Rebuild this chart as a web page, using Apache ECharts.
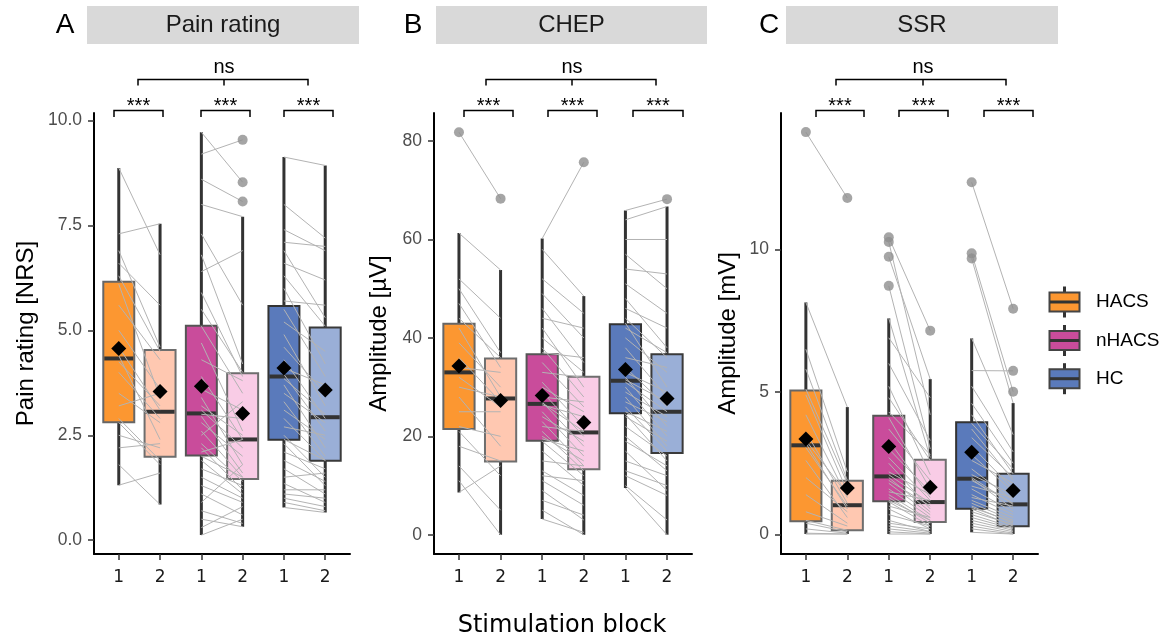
<html>
<head>
<meta charset="utf-8">
<title>Stimulation block</title>
<style>
  body { margin: 0; background: #fff; }
  #chart { width: 1163px; height: 640px; }
</style>
</head>
<body>
<div id="chart"></div>
<script src="https://cdn.jsdelivr.net/npm/echarts@6.0.0/dist/echarts.min.js"></script>
<script>
// groups / blocks
var groups = ['HACS', 'nHACS', 'HC'];
var blockLabels = ['1', '2'];
var panelTitles = ['Pain rating', 'CHEP', 'SSR'];
var panelLetters = ['A', 'B', 'C'];
var yTitles = ['Pain rating [NRS]', 'Amplitude [\u00b5V]', 'Amplitude [mV]'];

// box stats per box (HACS 1, HACS 2, nHACS 1, nHACS 2, HC 1, HC 2): [whisker low, Q1, median, Q3, whisker high]
var painBox = [[1.31, 2.81, 4.33, 6.16, 8.87], [0.85, 1.99, 3.06, 4.53, 7.54], [0.12, 2.02, 3.02, 5.11, 9.72],
               [0.32, 1.46, 2.40, 3.98, 7.71], [0.78, 2.39, 3.90, 5.58, 9.13], [0.66, 1.89, 2.93, 5.07, 8.93]];
var painMean = [4.57, 3.54, 3.67, 3.02, 4.10, 3.58];
var painOut = [[4, 9.54], [4, 8.53], [4, 8.07]];

var chepBox = [[8.6, 21.5, 33.0, 42.9, 61.3], [0, 14.9, 27.7, 35.8, 53.8], [3.2, 19.1, 26.6, 36.7, 60.2],
               [0, 13.3, 20.8, 32.1, 48.5], [9.5, 24.7, 31.3, 42.8, 65.9], [0, 16.6, 25.0, 36.7, 66.7]];
var chepMean = [34.3, 27.3, 28.3, 22.8, 33.6, 27.7];
var chepOut = [[1, 81.8], [2, 68.3], [4, 75.7], [6, 68.2]];

var ssrBox = [[0.02, 0.47, 3.13, 5.05, 8.14], [0.02, 0.15, 1.03, 1.89, 4.47], [0.02, 1.17, 2.04, 4.17, 7.58],
              [0.02, 0.44, 1.14, 2.62, 5.45], [0.08, 0.91, 1.96, 3.94, 6.88], [0.02, 0.29, 1.06, 2.13, 4.61]];
var ssrMean = [3.35, 1.63, 3.09, 1.66, 2.89, 1.55];
var ssrOut = [[1, 14.11], [2, 11.8], [3, 10.42], [3, 10.26], [3, 9.74], [3, 8.72], [4, 7.15],
              [5, 12.35], [5, 9.86], [5, 9.68], [6, 7.92], [6, 5.74], [6, 5.01]];

// paired subjects, block 1 -> block 2
var painHacs1 = [8.87, 7.3, 6.9, 6.6, 6.3, 6.1, 5.6, 5.0, 4.6, 4.4, 4.25, 4.0, 3.5, 3.2, 2.9, 2.8, 2.5, 2.2, 1.8, 1.31];
var painHacs2 = [6.8, 7.54, 4.6, 5.6, 4.5, 3.4, 4.3, 3.6, 3.1, 2.4, 3.2, 2.9, 2.8, 3.5, 1.9, 1.8, 2.2, 2.3, 0.85, 1.6];
var painNhacs1 = [9.72, 9.2, 8.6, 8.0, 7.3, 6.8, 6.4, 5.9, 5.5, 5.1, 4.7, 4.3, 3.9, 3.6, 3.4, 3.2, 3.1, 3.0, 2.95, 2.8,
                  2.6, 2.5, 2.3, 2.2, 2.1, 2.0, 1.9, 1.7, 1.5, 1.3, 1.1, 0.9, 0.7, 0.5, 0.3, 0.12];
var painNhacs2 = [8.53, 9.54, 8.07, 7.71, 5.6, 4.2, 6.9, 3.9, 4.0, 3.5, 2.6, 3.8, 2.4, 3.1, 1.8, 2.5, 2.2, 2.9, 1.6, 2.0,
                  1.5, 3.3, 1.4, 1.2, 2.4, 1.5, 1.1, 1.3, 1.0, 0.9, 0.6, 1.8, 0.4, 0.32, 0.8, 0.5];
var painHc1 = [9.13, 8.0, 7.4, 7.1, 6.9, 6.6, 6.3, 6.0, 5.7, 5.5, 5.2, 4.9, 4.6, 4.3, 4.1, 3.95, 3.85, 3.7, 3.5, 3.3,
               3.1, 2.9, 2.7, 2.5, 2.4, 2.3, 2.1, 1.9, 1.7, 1.5, 1.35, 1.2, 1.1, 1.0, 0.9, 0.78];
var painHc2 = [8.93, 7.2, 6.9, 7.0, 5.3, 6.2, 5.1, 4.2, 5.6, 3.9, 4.5, 3.2, 3.5, 2.9, 3.7, 2.6, 3.0, 2.2, 2.8, 2.0,
               2.4, 1.9, 2.5, 1.5, 1.9, 1.3, 1.7, 1.4, 1.1, 1.6, 0.9, 1.2, 1.0, 0.8, 0.7, 0.66];

var chepHacs1 = [81.8, 61.3, 52, 50, 47, 44, 42, 39, 36, 34, 32, 30, 28, 25, 22, 21, 18, 14, 11, 8.6];
var chepHacs2 = [68.3, 53.8, 44, 37, 34, 36, 28, 30, 27, 33, 26, 28, 18, 25, 20, 12, 15, 5, 0, 14];
var chepNhacs1 = [60.2, 58, 52, 49, 46, 44, 42, 40, 38, 37, 35, 33, 31, 30, 29, 28, 27, 26.8, 26.4, 25,
                  24, 23, 22, 21, 20, 19.5, 19, 17, 15, 13, 12, 11, 9, 7, 5, 3.2];
var chepNhacs2 = [75.7, 48.5, 45, 40, 35, 42, 30, 33, 28, 36, 26, 32, 22, 25, 20, 27, 18, 21, 24, 16,
                  19, 14, 21, 13, 15, 17, 12, 10, 14, 8, 11, 6, 3, 4, 0, 0.5];
var chepHc1 = [65.9, 64, 60, 57, 54, 51, 48, 46, 44, 43, 42, 40, 38, 36, 34, 33, 32, 31.5, 31, 30,
               29, 28, 27, 26, 25, 24.5, 24, 22, 20, 19, 17, 15, 13, 12, 10, 9.5];
var chepHc2 = [68.2, 66.7, 60, 50, 53, 45, 38, 42, 36, 30, 37, 33, 28, 34, 26, 29, 22, 27, 25, 20,
               24, 18, 23, 17, 21, 15, 19, 16, 13, 14, 9, 12, 10, 8, 3, 0];

var ssrHacs1 = [14.11, 8.14, 6.5, 5.8, 5.1, 4.9, 4.2, 3.6, 3.3, 3.2, 3.05, 2.6, 2.0, 1.4, 0.8, 0.5, 0.4, 0.2, 0.05, 0.02];
var ssrHacs2 = [11.8, 4.47, 2.2, 1.9, 1.8, 1.5, 1.3, 1.1, 1.4, 0.9, 1.0, 0.6, 0.8, 0.4, 0.3, 0.15, 0.1, 0.05, 0.02, 0.02];
var ssrNhacs1 = [10.42, 10.26, 9.74, 8.72, 7.58, 6.9, 6.0, 5.2, 4.8, 4.3, 4.1, 3.7, 3.3, 3.0, 2.7, 2.5, 2.2, 2.1, 2.0, 1.9,
                 1.8, 1.6, 1.5, 1.4, 1.3, 1.2, 1.15, 1.0, 0.9, 0.7, 0.5, 0.4, 0.3, 0.2, 0.1, 0.02];
var ssrNhacs2 = [7.15, 4.2, 5.45, 3.0, 2.7, 4.8, 3.3, 2.1, 2.6, 2.8, 1.6, 1.9, 1.3, 1.5, 1.2, 0.9, 1.4, 1.1, 0.8, 1.0,
                 0.7, 0.6, 1.2, 0.5, 0.4, 0.5, 0.3, 0.6, 0.2, 0.3, 0.1, 0.2, 0.1, 0.05, 0.02, 0.02];
var ssrHc1 = [12.35, 9.86, 9.68, 6.88, 5.75, 5.2, 4.6, 4.2, 3.9, 3.7, 3.4, 3.1, 2.8, 2.6, 2.3, 2.1, 2.0, 1.95, 1.9, 1.7,
              1.6, 1.4, 1.3, 1.2, 1.1, 1.0, 0.95, 0.9, 0.8, 0.7, 0.6, 0.5, 0.4, 0.3, 0.2, 0.08];
var ssrHc2 = [7.92, 5.01, 4.61, 3.5, 5.74, 2.9, 2.5, 2.13, 2.3, 1.9, 2.0, 1.6, 1.5, 1.8, 1.2, 1.4, 1.06, 0.9, 1.1, 1.3,
              0.8, 0.7, 1.0, 0.6, 0.5, 0.4, 0.45, 0.3, 0.35, 0.25, 0.2, 0.15, 0.1, 0.05, 0.02, 0.02];

// y axis ticks
var painTicks = [0, 2.5, 5, 7.5, 10];
var chepTicks = [0, 20, 40, 60, 80];
var ssrTicks = [0, 5, 10];

// styling
var boxFill = ['#fc9731', '#ffc8b1', '#c94c9b', '#f9cce6', '#5a7abb', '#9aafd7'];
var boxStroke = ['#666', '#6e6e6e', '#555', '#6e6e6e', '#333', '#3a3a3a'];
var legendFill = ['#fc9731', '#c94c9b', '#5a7abb'];

var panels = [
    { box: painBox, mean: painMean, out: painOut, ticks: painTicks, min: -0.33, max: 10.18, dec: 1,
      pairs: [[painHacs1, painHacs2], [painNhacs1, painNhacs2], [painHc1, painHc2]],
      left: 94, width: 256, strip: [87, 359], letterX: 65, titleX: 26,
      brackets: [[114, 163], [201, 250], [284, 333]], ns: [138, 308, 224] },
    { box: chepBox, mean: chepMean, out: chepOut, ticks: chepTicks, min: -3.9, max: 85.7, dec: 0,
      pairs: [[chepHacs1, chepHacs2], [chepNhacs1, chepNhacs2], [chepHc1, chepHc2]],
      left: 434, width: 258, strip: [436, 707], letterX: 413, titleX: 379,
      brackets: [[464, 513], [548, 597], [633, 683]], ns: [486, 656, 572] },
    { box: ssrBox, mean: ssrMean, out: ssrOut, ticks: ssrTicks, min: -0.68, max: 14.78, dec: 0,
      pairs: [[ssrHacs1, ssrHacs2], [ssrNhacs1, ssrNhacs2], [ssrHc1, ssrHc2]],
      left: 781, width: 257, strip: [786, 1058], letterX: 769, titleX: 728,
      brackets: [[816, 864], [899, 948], [984, 1033]], ns: [836, 1006, 923] }
];

var gridTop = 113, gridHeight = 441;
var xPos = [1, 2, 3, 4, 5, 6];

function renderBox(params, api) {
    var x = api.value(0);
    var i = api.value(6);
    var lo = api.coord([x, api.value(1)]);
    var q1 = api.coord([x, api.value(2)]);
    var md = api.coord([x, api.value(3)]);
    var q3 = api.coord([x, api.value(4)]);
    var hi = api.coord([x, api.value(5)]);
    var half = api.size([0.75, 0])[0] / 2;
    return {
        type: 'group',
        children: [
            { type: 'line', shape: { x1: lo[0], y1: lo[1], x2: hi[0], y2: hi[1] }, style: { stroke: '#333', lineWidth: 3 } },
            { type: 'rect', shape: { x: q3[0] - half, y: q3[1], width: half * 2, height: q1[1] - q3[1] },
              style: { fill: boxFill[i], stroke: boxStroke[i], lineWidth: 2 } },
            { type: 'line', shape: { x1: md[0] - half + 1, y1: md[1], x2: md[0] + half - 1, y2: md[1] }, style: { stroke: '#333', lineWidth: 4 } }
        ]
    };
}

function renderPair(params, api) {
    var a = api.coord([api.value(0), api.value(1)]);
    var b = api.coord([api.value(2), api.value(3)]);
    return { type: 'line', shape: { x1: a[0], y1: a[1], x2: b[0], y2: b[1] },
             style: { stroke: '#b3b3b3', lineWidth: 1 } };
}

var grids = [], xAxes = [], yAxes = [], series = [], graphics = [];

panels.forEach(function (p, k) {
    grids.push({ left: p.left, top: gridTop, width: p.width, height: gridHeight });

    xAxes.push({
        type: 'value', gridIndex: k, min: 0.4, max: 6.6,
        splitLine: { show: false },
        axisLine: { onZero: false, lineStyle: { color: '#000', width: 2 } },
        axisTick: { customValues: xPos, length: 6, lineStyle: { color: '#333', width: 1.5 } },
        axisLabel: { customValues: xPos, margin: 15, color: '#1a1a1a', fontSize: 17, fontFamily: 'DejaVu Sans',
                     formatter: function (v) { return blockLabels[(Math.round(v) - 1) % 2]; } }
    });

    yAxes.push({
        type: 'value', gridIndex: k, min: p.min, max: p.max,
        splitLine: { show: false },
        axisLine: { show: true, onZero: false, lineStyle: { color: '#000', width: 2 } },
        axisTick: { show: true, customValues: p.ticks, length: 6, lineStyle: { color: '#333', width: 1.5 } },
        axisLabel: { customValues: p.ticks, margin: 12, color: '#4d4d4d', fontSize: 17.5, fontFamily: 'Liberation Sans',
                     formatter: function (v) { return v.toFixed(p.dec); } }
    });

    var boxData = p.box.map(function (b, i) { return [xPos[i]].concat(b).concat([i]); });
    series.push({
        type: 'custom', xAxisIndex: k, yAxisIndex: k, z: 1, silent: true,
        renderItem: renderBox, data: boxData, encode: { x: 0, y: [1, 5] }
    });

    var pairData = [];
    p.pairs.forEach(function (pr, g) {
        pr[0].forEach(function (v, j) {
            pairData.push([2 * g + 1, v, 2 * g + 2, pr[1][j]]);
        });
    });
    series.push({
        type: 'custom', xAxisIndex: k, yAxisIndex: k, z: 2, silent: true,
        renderItem: renderPair, data: pairData, encode: { x: [0, 2], y: [1, 3] }
    });

    series.push({
        type: 'scatter', xAxisIndex: k, yAxisIndex: k, z: 3, silent: true,
        symbolSize: 10, itemStyle: { color: '#8f8f8f', opacity: 0.8 }, data: p.out
    });

    series.push({
        type: 'scatter', xAxisIndex: k, yAxisIndex: k, z: 4, silent: true,
        symbol: 'diamond', symbolSize: 15, itemStyle: { color: '#000', opacity: 1 },
        data: p.mean.map(function (m, i) { return [xPos[i], m]; })
    });

    // facet strip + panel letter
    graphics.push({ type: 'rect', shape: { x: p.strip[0], y: 6, width: p.strip[1] - p.strip[0], height: 38 },
                    style: { fill: '#d9d9d9' } });
    graphics.push({ type: 'text', x: (p.strip[0] + p.strip[1]) / 2, y: 25,
                    style: { text: panelTitles[k], fill: '#1a1a1a', font: '24px "Liberation Sans"', align: 'center', verticalAlign: 'middle' } });
    graphics.push({ type: 'text', x: p.letterX, y: 25,
                    style: { text: panelLetters[k], fill: '#000', font: '28px "Liberation Sans"', align: 'center', verticalAlign: 'middle' } });
    // y title
    graphics.push({ type: 'text', x: p.titleX, y: gridTop + gridHeight / 2, rotation: Math.PI / 2,
                    style: { text: yTitles[k], fill: '#000', font: '24px "Liberation Sans"', align: 'center', verticalAlign: 'middle' } });

    // significance brackets
    p.brackets.forEach(function (br) {
        graphics.push({ type: 'polyline', shape: { points: [[br[0], 117], [br[0], 110.5], [br[1], 110.5], [br[1], 117]] },
                        style: { stroke: '#000', lineWidth: 1.5, fill: null } });
        graphics.push({ type: 'text', x: (br[0] + br[1]) / 2, y: 106,
                        style: { text: '***', fill: '#000', font: '20px "Liberation Sans"', align: 'center', verticalAlign: 'middle' } });
    });
    graphics.push({ type: 'polyline', shape: { points: [[p.ns[0], 85.5], [p.ns[0], 79.5], [p.ns[1], 79.5], [p.ns[1], 85.5]] },
                    style: { stroke: '#000', lineWidth: 1.5, fill: null } });
    graphics.push({ type: 'line', shape: { x1: p.ns[2], y1: 79.5, x2: p.ns[2], y2: 85.5 }, style: { stroke: '#000', lineWidth: 1.5 } });
    graphics.push({ type: 'text', x: p.ns[2], y: 67,
                    style: { text: 'ns', fill: '#000', font: '20px "Liberation Sans"', align: 'center', verticalAlign: 'middle' } });
});

// shared x title
graphics.push({ type: 'text', x: 562, y: 626,
                style: { text: 'Stimulation block', fill: '#000', font: '24px "DejaVu Sans"', align: 'center', verticalAlign: 'middle' } });

// legend
var legendY = [302, 340.5, 378.7];
groups.forEach(function (g, i) {
    var cy = legendY[i];
    graphics.push({ type: 'line', shape: { x1: 1064.5, y1: cy - 15.5, x2: 1064.5, y2: cy + 15.5 }, style: { stroke: '#333', lineWidth: 3 } });
    graphics.push({ type: 'rect', shape: { x: 1049.5, y: cy - 9.5, width: 30, height: 19 }, style: { fill: legendFill[i], stroke: '#444', lineWidth: 2 } });
    graphics.push({ type: 'line', shape: { x1: 1050, y1: cy, x2: 1079, y2: cy }, style: { stroke: '#333', lineWidth: 3 } });
    graphics.push({ type: 'text', x: 1096, y: cy,
                    style: { text: g, fill: '#000', font: '19px "Liberation Sans"', align: 'left', verticalAlign: 'middle' } });
});

var chart = echarts.init(document.getElementById('chart'));
chart.setOption({
    animation: false,
    backgroundColor: '#fff',
    grid: grids,
    xAxis: xAxes,
    yAxis: yAxes,
    series: series,
    graphic: graphics
});
</script>
</body>
</html>
